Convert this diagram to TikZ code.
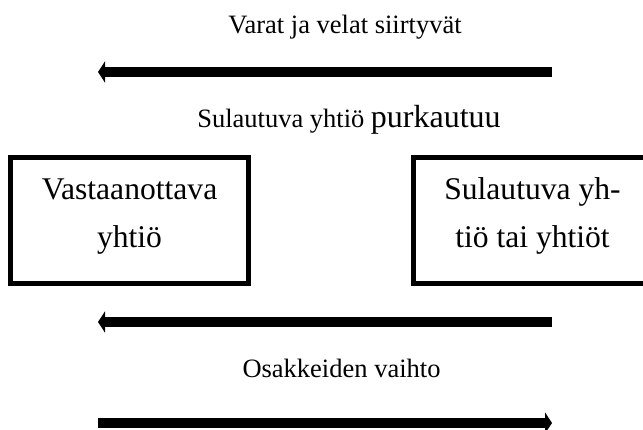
\documentclass[tikz,border=0pt]{standalone}
\usepackage{fontspec}
\setmainfont{Liberation Serif}
\usetikzlibrary{arrows.meta}
\tikzset{
  lbl/.style={inner sep=0pt, anchor=base, font=\fontsize{26.5}{30}\selectfont},
  firmbox/.style={draw, line width=5pt, minimum width=238pt, minimum height=126pt, inner sep=0pt,
    align=center, text height=70pt, text depth=15pt, font=\fontsize{31.6}{48}\selectfont},
  bigarrow/.style={line width=10.5pt, -{Triangle[length=7pt,width=21pt]}}
}
\begin{document}
\begin{tikzpicture}[x=1pt,y=-1pt]
\useasboundingbox (0,0) rectangle (643,430);
\clip (0,0) rectangle (643,430);
% labels
\node[lbl] (t1) at (345,34) {Varat ja velat siirtyvät};
\node[lbl] (t2) at (349,128) {Sulautuva yhtiö {\fontsize{32}{36}\selectfont purkautuu}};
\node[lbl] (t3) at (341.5,378) {Osakkeiden vaihto};
% boxes
\node[firmbox] (L) at (129.5,220.5) {Vastaanottava\\yhtiö};
\node[firmbox] (R) at (532.5,220.5) {Sulautuva yh-\\tiö tai yhtiöt};
% arrow end points
\coordinate (a1r) at (552,72);
\coordinate (a1l) at (98,72);
\coordinate (a2r) at (552,322);
\coordinate (a2l) at (98,322);
\coordinate (a3l) at (98,423);
\coordinate (a3r) at (552,423);
\draw[bigarrow] (a1r) -- (a1l);
\draw[bigarrow] (a2r) -- (a2l);
\draw[bigarrow] (a3l) -- (a3r);
\end{tikzpicture}
\end{document}
